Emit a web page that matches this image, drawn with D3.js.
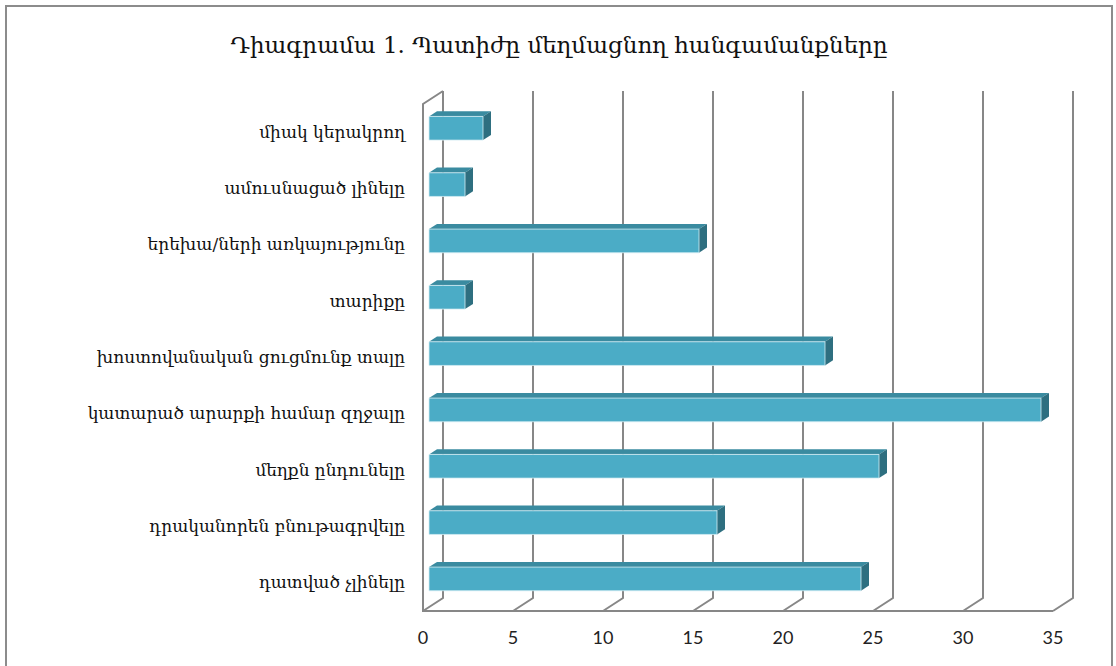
<!DOCTYPE html>
<html>
<head>
    <meta charset="utf-8">
    <title>Դիագրամա 1</title>
    <script src="https://cdn.jsdelivr.net/npm/d3@7"></script>
    <style>
        body { margin: 0; background: #fff; }
        .title { font-family: "DejaVu Serif", serif; font-size: 23px; fill: #111; }
        .cat { font-family: "DejaVu Serif", serif; font-size: 17px; fill: #111; }
        .tick { font-family: Lato, "Open Sans", sans-serif; font-size: 18px; fill: #222; }
        .grid { stroke: #878787; stroke-width: 2; fill: none; }
    </style>
</head>
<body>
<script>
    var categories = ["միակ կերակրող", "ամուսնացած լինելը", "երեխա/ների առկայությունը",
        "տարիքը", "խոստովանական ցուցմունք տալը", "կատարած արարքի համար զղջալը",
        "մեղքն ընդունելը", "դրականորեն բնութագրվելը", "դատված չլինելը"];
    var values = [3, 2, 15, 2, 22, 34, 25, 16, 24];
    var tickValues = [0, 5, 10, 15, 20, 25, 30, 35];
    var title = "Դիագրամա 1. Պատիժը մեղմացնող հանգամանքները";

    var width = 1116, height = 666;
    // front plane of the 3d box
    var plotLeft = 423, plotTop = 104, plotBottom = 611;
    var depthX = 20, depthY = 13;   // offset to back wall

    var x = d3.scaleLinear().domain([0, 35]).range([0, 630]);
    var y = d3.scaleBand().domain(categories).range([plotTop, plotBottom])
        .paddingInner(0.58).paddingOuter(0.29);

    // front-plane coords pushed back by depth fraction f
    function P(v, yy, f) {
        return [plotLeft + x(v) + f * depthX, yy - f * depthY];
    }

    var svg = d3.select("body").append("svg")
        .attr("width", width)
        .attr("height", height);

    svg.append("rect")
        .attr("x", 6).attr("y", 6)
        .attr("width", width - 10).attr("height", height + 20)
        .attr("fill", "none").attr("stroke", "#8c8c8c").attr("stroke-width", 2);

    svg.append("text")
        .attr("class", "title")
        .attr("x", 559).attr("y", 53)
        .attr("text-anchor", "middle")
        .text(title);

    var line = d3.line();
    var g = svg.append("g");

    // back wall gridlines + floor diagonals
    tickValues.forEach(function (t) {
        g.append("path").attr("class", "grid")
            .attr("d", line([P(t, plotTop, 1), P(t, plotBottom, 1), P(t, plotBottom, 0)]));
    });
    // left wall and front floor edge
    g.append("path").attr("class", "grid")
        .attr("d", line([P(0, plotTop, 1), P(0, plotTop, 0), P(0, plotBottom, 0), P(35, plotBottom, 0)]));

    // 3d bars
    var f0 = 0.3, f1 = 0.7;
    var bars = g.selectAll(".bar").data(categories).enter().append("g").attr("class", "bar");

    bars.append("path") // top face
        .attr("fill", "#3a8ba0")
        .attr("d", function (d, i) {
            var yt = y(d);
            return line([P(0, yt, f0), P(values[i], yt, f0), P(values[i], yt, f1), P(0, yt, f1)]) + "Z";
        });
    bars.append("path") // side face
        .attr("fill", "#2e6f80")
        .attr("d", function (d, i) {
            var yt = y(d), yb = y(d) + y.bandwidth();
            return line([P(values[i], yt, f0), P(values[i], yt, f1), P(values[i], yb, f1), P(values[i], yb, f0)]) + "Z";
        });
    bars.append("path") // front face
        .attr("fill", "#4bacc6")
        .attr("stroke", "#d4eef4").attr("stroke-width", 0.8)
        .attr("d", function (d, i) {
            var yt = y(d), yb = y(d) + y.bandwidth();
            return line([P(0, yt, f0), P(values[i], yt, f0), P(values[i], yb, f0), P(0, yb, f0)]) + "Z";
        });

    // category labels
    svg.selectAll(".cat").data(categories).enter().append("text")
        .attr("class", "cat")
        .attr("x", 405)
        .attr("y", function (d) { return y(d) + y.bandwidth() / 2 + 1; })
        .attr("text-anchor", "end")
        .attr("dominant-baseline", "middle")
        .text(function (d) { return d; });

    // value axis labels
    svg.selectAll(".tick").data(tickValues).enter().append("text")
        .attr("class", "tick")
        .attr("x", function (d) { return plotLeft + x(d); })
        .attr("y", 644)
        .attr("text-anchor", "middle")
        .text(function (d) { return d; });
</script>
</body>
</html>
